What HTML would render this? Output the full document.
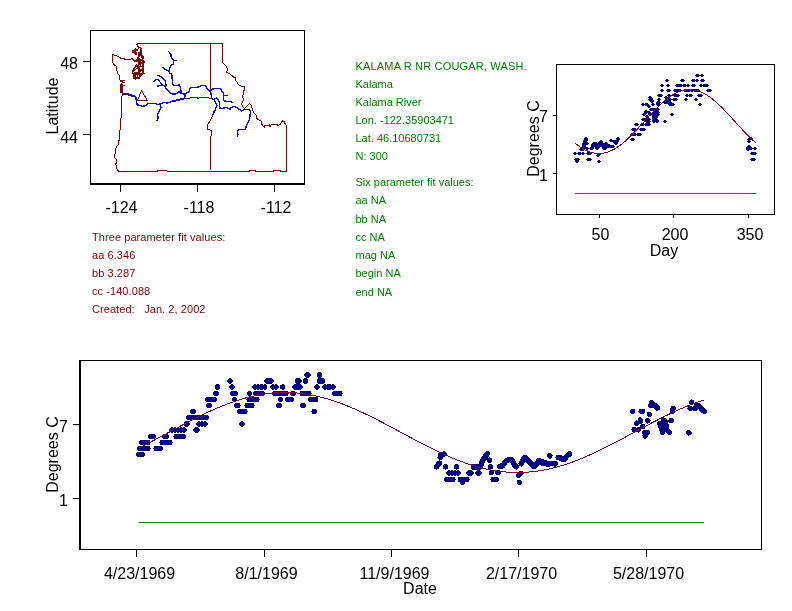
<!DOCTYPE html>
<html><head><meta charset="utf-8"><style>
html,body{margin:0;padding:0;background:#fff;}
svg{display:block;}
</style></head><body>
<svg width="792" height="611" viewBox="0 0 792 611">
<g shape-rendering="crispEdges">
<rect x="90.5" y="30.5" width="214" height="153" fill="none" stroke="#000" stroke-width="1"/>
<rect x="90" y="183" width="215" height="2" fill="#000"/>
<rect x="120" y="185" width="1" height="7" fill="#000"/>
<rect x="197" y="185" width="1" height="7" fill="#000"/>
<rect x="274" y="185" width="1" height="7" fill="#000"/>
<rect x="83" y="61" width="7" height="1" fill="#000"/>
<rect x="83" y="134" width="7" height="1" fill="#000"/>
</g>
<g fill="none" stroke-width="1" shape-rendering="crispEdges" stroke-linejoin="miter">
<polyline points="137.00,43.50 222.50,43.50" stroke="#800000"/>
<polyline points="222.50,43.50 222.50,62.50 223.60,63.50 226.40,66.20 227.30,68.90 226.80,72.50 230.00,73.90 233.60,77.10 235.50,78.00 235.90,80.70 238.60,84.50 240.50,85.90 244.50,86.40 244.10,90.00 243.60,92.70 242.70,96.40 243.60,100.00 242.30,101.80 241.80,104.50 242.70,106.80 244.50,108.20 246.80,106.40 249.50,103.60 251.80,105.90 252.30,110.00 254.10,113.20 256.40,115.50 256.40,118.20 258.60,120.00 260.90,120.90 261.40,123.60 263.20,126.40 264.50,127.30 265.00,125.50 269.50,125.00 270.00,126.40 271.40,124.50 276.80,124.50 278.20,125.50 280.50,124.10 282.30,120.90 284.10,121.80 285.90,125.00 286.50,126.40 286.50,171.50" stroke="#800000"/>
<polyline points="119.10,171.50 157.50,171.50 157.50,170.50 166.50,170.50 167.50,171.50 249.50,171.50 249.50,170.50 255.50,170.50 255.50,171.50 273.50,171.50 273.50,170.50 280.50,170.50 280.50,171.50 286.50,171.50" stroke="#800000"/>
<polyline points="210.50,43.50 210.50,91.00" stroke="#800000"/>
<polyline points="213.60,99.50 215.50,101.80 216.80,105.50 215.50,109.10 214.10,111.80 212.70,115.50 210.50,120.00 207.70,124.50 207.50,129.10 211.50,130.50 211.50,135.50 210.50,136.40 210.50,169.50" stroke="#800000"/>
<polyline points="122.50,94.50 127.30,94.50 129.10,95.50 133.60,96.50 135.90,97.30 136.40,101.80 137.30,105.00 140.90,105.50 142.70,106.40 145.50,105.50 148.20,103.60 155.50,103.60 158.20,104.50 161.80,103.20 164.50,102.30 167.30,103.20 170.90,101.90 176.40,100.90 185.90,98.60 191.80,97.70 196.40,97.30 198.20,98.50 200.00,97.70 208.20,97.70 210.90,98.60 213.60,99.50" stroke="#800000"/>
<polyline points="112.70,54.40 119.50,57.10 120.90,58.50 127.30,59.40 131.80,58.90 133.60,60.30" stroke="#800000"/>
<polyline points="112.50,54.40 112.50,61.60 113.60,64.40 116.40,66.20 116.80,70.70 118.20,74.40 119.50,75.30 119.50,80.00 123.50,80.50 121.50,81.50 123.50,82.50 120.80,83.50" stroke="#800000"/>
<polyline points="122.30,93.60 121.80,98.20 121.80,102.70 121.40,107.30 121.80,110.90 120.90,119.10 120.50,125.50 119.50,134.50 119.50,140.00 118.60,140.90 118.60,144.50 116.80,146.40 115.50,149.10 115.50,153.60 114.50,154.50 114.50,157.30 116.40,159.50 116.40,163.20 115.50,164.10 116.40,165.50 116.40,168.60 119.10,171.50" stroke="#800000"/>
</g>
<path d="M136,44h2v1h-2zM137,45h1v1h-1zM137,46h2v1h-2zM138,47h3v1h-3zM135,48h1v1h-1zM138,48h1v1h-1zM140,48h2v1h-2zM134,49h4v1h-4zM140,49h2v1h-2zM132,50h6v1h-6zM140,50h2v1h-2zM132,51h4v1h-4zM140,51h2v1h-2zM132,52h5v1h-5zM138,52h4v1h-4zM134,53h3v1h-3zM138,53h4v1h-4zM135,54h2v1h-2zM138,54h4v1h-4zM138,55h5v1h-5zM138,56h2v1h-2zM141,56h3v1h-3zM137,57h2v1h-2zM141,57h3v1h-3zM132,58h1v1h-1zM137,58h3v1h-3zM142,58h2v1h-2zM133,59h1v1h-1zM136,59h7v1h-7zM133,60h11v1h-11zM134,61h7v1h-7zM142,61h3v1h-3zM138,62h7v1h-7zM138,63h6v1h-6zM136,64h1v1h-1zM138,64h3v1h-3zM142,64h2v1h-2zM135,65h4v1h-4zM140,65h1v1h-1zM142,65h2v1h-2zM135,66h9v1h-9zM134,67h2v1h-2zM137,67h3v1h-3zM142,67h2v1h-2zM133,68h2v1h-2zM136,68h4v1h-4zM142,68h2v1h-2zM133,69h3v1h-3zM138,69h6v1h-6zM132,70h3v1h-3zM138,70h6v1h-6zM132,71h2v1h-2zM138,71h3v1h-3zM142,71h2v1h-2zM132,72h1v1h-1zM134,72h6v1h-6zM142,72h2v1h-2zM132,73h13v1h-13zM133,74h10v1h-10zM133,75h3v1h-3zM137,75h1v1h-1zM139,75h3v1h-3zM133,76h3v1h-3zM137,76h1v1h-1zM139,76h2v1h-2zM133,77h7v1h-7zM133,78h7v1h-7zM135,79h1v1h-1zM120,84h3v1h-3zM120,85h5v1h-5zM120,86h3v1h-3zM120,87h3v1h-3zM120,88h3v1h-3zM120,89h3v1h-3zM120,90h3v1h-3zM120,91h3v1h-3zM120,92h3v1h-3z" fill="#800000" shape-rendering="crispEdges"/>
<g fill="none" stroke-width="1.35" shape-rendering="crispEdges">
<polyline points="122.30,93.60 127.30,93.60 129.10,94.50 133.60,95.50 135.90,97.30 136.40,101.80 137.30,105.00 140.90,105.50 142.70,106.40 145.50,105.50 148.20,103.60 155.50,103.60 158.20,104.50 161.80,103.20 164.50,102.30 167.30,103.20 171.80,101.40 178.20,99.50 184.50,98.60 185.50,93.60" stroke="#0000ff"/>
<polyline points="185.50,93.60 189.10,91.80 190.00,88.20 191.80,87.30 195.50,87.70 199.10,86.80 200.90,85.50 205.50,85.50 207.30,89.10 210.00,90.90 210.90,93.60 211.80,98.20 213.60,99.50 215.50,101.80 216.80,105.50 215.50,109.10 214.10,111.80 212.70,115.50" stroke="#0000ff"/>
<polyline points="210.50,90.70 212.70,89.10 216.40,88.20 220.00,88.60 221.80,90.90 223.60,93.60 223.60,95.50 227.70,95.50" stroke="#0000ff"/>
<polyline points="223.60,95.50 223.60,100.50 227.30,101.80 231.40,101.80 232.30,103.20" stroke="#0000ff"/>
<polyline points="213.60,99.50 216.40,98.20 218.60,100.00 219.50,103.60 220.00,108.60 223.60,108.20 225.50,107.30 227.70,108.20 230.00,109.10 231.40,107.30 234.10,106.40 236.80,107.70 239.50,109.50 241.80,110.90 245.00,109.50 249.10,109.50 250.50,111.40 250.00,115.90 249.10,120.00 247.70,122.70 246.40,125.50 245.50,129.10 241.80,129.50 238.60,129.80 237.50,131.80 238.00,134.50 237.50,137.00" stroke="#0000ff"/>
<polyline points="168.50,51.30 170.90,54.50 171.30,57.80 173.40,60.30 176.60,60.30" stroke="#0000ff"/>
<polyline points="173.40,60.30 173.40,64.00 170.90,65.60 169.70,67.60 168.90,71.70 170.10,73.40 171.70,74.20 172.10,77.50 172.50,83.20 173.40,85.60 177.50,85.60 178.70,84.40 180.70,88.10 181.10,92.60 184.00,94.20 185.50,93.60" stroke="#0000ff"/>
<polyline points="168.90,71.70 168.00,70.90 163.10,68.00 163.10,66.80" stroke="#0000ff"/>
<polyline points="157.40,75.40 161.10,76.60 164.00,79.10 165.60,81.60 166.00,86.10" stroke="#0000ff"/>
<polyline points="153.30,82.00 156.20,79.50 158.20,79.90 161.10,83.20 162.30,85.20 165.20,86.50 166.40,88.90 168.90,91.00 170.90,93.00 172.50,94.20 176.20,93.80 179.10,91.40 180.70,93.00 184.00,94.20" stroke="#0000ff"/>
<polyline points="157.40,86.10 162.30,85.20" stroke="#0000ff"/>
<polyline points="160.50,104.50 160.90,107.30 159.10,110.90 157.70,114.50 158.20,118.20 156.40,121.40" stroke="#0000ff"/>
</g>
<polygon points="141.5,90.5 137.5,100.5 147.5,100.5" fill="none" stroke="#800040" stroke-width="1" shape-rendering="crispEdges"/>
<text x="121.5" y="213" font-size="16" text-anchor="middle" font-family="Liberation Sans, Arial, sans-serif">-124</text>
<text x="199" y="213" font-size="16" text-anchor="middle" font-family="Liberation Sans, Arial, sans-serif">-118</text>
<text x="276" y="213" font-size="16" text-anchor="middle" font-family="Liberation Sans, Arial, sans-serif">-112</text>
<text x="78" y="69" font-size="16" text-anchor="end" font-family="Liberation Sans, Arial, sans-serif">48</text>
<text x="78" y="143" font-size="16" text-anchor="end" font-family="Liberation Sans, Arial, sans-serif">44</text>
<text transform="translate(58,106) rotate(-90)" font-size="16" text-anchor="middle" font-family="Liberation Sans, Arial, sans-serif">Latitude</text>
<text x="92" y="241" font-size="11" fill="#800000" letter-spacing="0.07" font-family="Liberation Sans, Arial, sans-serif" xml:space="preserve">Three parameter fit values:</text>
<text x="92" y="259" font-size="11" fill="#800000" letter-spacing="0.07" font-family="Liberation Sans, Arial, sans-serif" xml:space="preserve">aa 6.346</text>
<text x="92" y="277" font-size="11" fill="#800000" letter-spacing="0.07" font-family="Liberation Sans, Arial, sans-serif" xml:space="preserve">bb 3.287</text>
<text x="92" y="295" font-size="11" fill="#800000" letter-spacing="0.07" font-family="Liberation Sans, Arial, sans-serif" xml:space="preserve">cc -140.088</text>
<text x="92" y="313" font-size="11" fill="#800000" letter-spacing="0.07" font-family="Liberation Sans, Arial, sans-serif" xml:space="preserve">Created:   Jan. 2, 2002</text>
<text x="355.5" y="69.5" font-size="11" fill="#008000" letter-spacing="0.17" font-family="Liberation Sans, Arial, sans-serif">KALAMA R NR COUGAR, WASH.</text>
<text x="355.5" y="87.5" font-size="11" fill="#008000" font-family="Liberation Sans, Arial, sans-serif">Kalama</text>
<text x="355.5" y="105.5" font-size="11" fill="#008000" font-family="Liberation Sans, Arial, sans-serif">Kalama River</text>
<text x="355.5" y="123.5" font-size="11" fill="#008000" font-family="Liberation Sans, Arial, sans-serif">Lon. -122.35903471</text>
<text x="355.5" y="141.5" font-size="11" fill="#008000" font-family="Liberation Sans, Arial, sans-serif">Lat. 46.10680731</text>
<text x="355.5" y="159.5" font-size="11" fill="#008000" font-family="Liberation Sans, Arial, sans-serif">N: 300</text>
<text x="355.5" y="186" font-size="11" fill="#008000" font-family="Liberation Sans, Arial, sans-serif">Six parameter fit values:</text>
<text x="355.5" y="204" font-size="11" fill="#008000" font-family="Liberation Sans, Arial, sans-serif">aa NA</text>
<text x="355.5" y="222.5" font-size="11" fill="#008000" font-family="Liberation Sans, Arial, sans-serif">bb NA</text>
<text x="355.5" y="240.5" font-size="11" fill="#008000" font-family="Liberation Sans, Arial, sans-serif">cc NA</text>
<text x="355.5" y="259" font-size="11" fill="#008000" font-family="Liberation Sans, Arial, sans-serif">mag NA</text>
<text x="355.5" y="277" font-size="11" fill="#008000" font-family="Liberation Sans, Arial, sans-serif">begin NA</text>
<text x="355.5" y="295.5" font-size="11" fill="#008000" font-family="Liberation Sans, Arial, sans-serif">end NA</text>
<g shape-rendering="crispEdges">
<rect x="556.5" y="64.5" width="218" height="150" fill="none" stroke="#000"/>
<rect x="599" y="215" width="1" height="3" fill="#000"/>
<rect x="673" y="215" width="1" height="3" fill="#000"/>
<rect x="748" y="215" width="1" height="3" fill="#000"/>
<rect x="553" y="115" width="3" height="1" fill="#000"/>
<rect x="553" y="173" width="3" height="1" fill="#000"/>
</g>
<text x="600.5" y="240" font-size="16" text-anchor="middle" font-family="Liberation Sans, Arial, sans-serif">50</text>
<text x="675" y="240" font-size="16" text-anchor="middle" font-family="Liberation Sans, Arial, sans-serif">200</text>
<text x="750" y="240" font-size="16" text-anchor="middle" font-family="Liberation Sans, Arial, sans-serif">350</text>
<text x="548" y="122" font-size="16" text-anchor="end" font-family="Liberation Sans, Arial, sans-serif">7</text>
<text x="548" y="181" font-size="16" text-anchor="end" font-family="Liberation Sans, Arial, sans-serif">1</text>
<text x="664" y="256" font-size="16" text-anchor="middle" font-family="Liberation Sans, Arial, sans-serif">Day</text>
<text transform="translate(538.5,138.5) rotate(-90)" font-size="16" text-anchor="middle" font-family="Liberation Sans, Arial, sans-serif">Degrees C</text>
<g shape-rendering="crispEdges">
<rect x="79" y="360" width="2" height="190" fill="#000"/>
<rect x="79" y="360" width="683" height="1" fill="#000"/>
<rect x="761" y="360" width="1" height="190" fill="#000"/>
<rect x="79" y="549" width="683" height="1" fill="#000"/>
<rect x="136" y="550" width="1" height="7" fill="#000"/>
<rect x="264" y="550" width="1" height="7" fill="#000"/>
<rect x="391" y="550" width="1" height="7" fill="#000"/>
<rect x="518" y="550" width="1" height="7" fill="#000"/>
<rect x="646" y="550" width="1" height="7" fill="#000"/>
<rect x="73" y="424" width="6" height="1" fill="#000"/>
<rect x="73" y="498" width="6" height="1" fill="#000"/>
</g>
<text x="139.5" y="579" font-size="16" text-anchor="middle" font-family="Liberation Sans, Arial, sans-serif">4/23/1969</text>
<text x="266.5" y="579" font-size="16" text-anchor="middle" font-family="Liberation Sans, Arial, sans-serif">8/1/1969</text>
<text x="394.5" y="579" font-size="16" text-anchor="middle" font-family="Liberation Sans, Arial, sans-serif">11/9/1969</text>
<text x="521.5" y="579" font-size="16" text-anchor="middle" font-family="Liberation Sans, Arial, sans-serif">2/17/1970</text>
<text x="648.5" y="579" font-size="16" text-anchor="middle" font-family="Liberation Sans, Arial, sans-serif">5/28/1970</text>
<text x="68" y="431.5" font-size="16" text-anchor="end" font-family="Liberation Sans, Arial, sans-serif">7</text>
<text x="68" y="505.5" font-size="16" text-anchor="end" font-family="Liberation Sans, Arial, sans-serif">1</text>
<text x="420" y="594" font-size="16" text-anchor="middle" font-family="Liberation Sans, Arial, sans-serif">Date</text>
<text transform="translate(57.5,454.5) rotate(-90)" font-size="16" text-anchor="middle" font-family="Liberation Sans, Arial, sans-serif">Degrees C</text>
<rect x="139" y="522" width="565" height="1" fill="#008000" shape-rendering="crispEdges"/>
<rect x="575" y="193" width="181" height="1" fill="#008000" shape-rendering="crispEdges"/>
<path d="M306,372h3v1h-3zM318,372h3v1h-3zM305,373h5v1h-5zM317,373h5v1h-5zM304,374h7v1h-7zM317,374h5v1h-5zM304,375h7v1h-7zM317,375h5v1h-5zM305,376h5v1h-5zM317,376h5v1h-5zM306,377h3v1h-3zM318,377h3v1h-3zM229,378h2v1h-2zM266,378h6v1h-6zM296,378h4v1h-4zM304,378h3v1h-3zM318,378h6v1h-6zM228,379h4v1h-4zM265,379h8v1h-8zM295,379h6v1h-6zM303,379h5v1h-5zM317,379h8v1h-8zM227,380h6v1h-6zM264,380h10v1h-10zM295,380h7v1h-7zM303,380h5v1h-5zM317,380h8v1h-8zM227,381h6v1h-6zM264,381h10v1h-10zM295,381h7v1h-7zM303,381h5v1h-5zM317,381h8v1h-8zM228,382h4v1h-4zM265,382h8v1h-8zM295,382h6v1h-6zM303,382h5v1h-5zM317,382h8v1h-8zM229,383h2v1h-2zM266,383h6v1h-6zM296,383h4v1h-4zM304,383h3v1h-3zM318,383h6v1h-6zM216,384h3v1h-3zM231,384h2v1h-2zM254,384h2v1h-2zM257,384h2v1h-2zM260,384h3v1h-3zM264,384h2v1h-2zM272,384h2v1h-2zM275,384h2v1h-2zM282,384h2v1h-2zM294,384h7v1h-7zM316,384h2v1h-2zM324,384h2v1h-2zM327,384h4v1h-4zM332,384h2v1h-2zM215,385h5v1h-5zM230,385h4v1h-4zM253,385h14v1h-14zM271,385h7v1h-7zM280,385h5v1h-5zM293,385h9v1h-9zM315,385h4v1h-4zM323,385h12v1h-12zM215,386h5v1h-5zM229,386h6v1h-6zM252,386h15v1h-15zM270,386h9v1h-9zM280,386h5v1h-5zM292,386h11v1h-11zM314,386h6v1h-6zM322,386h14v1h-14zM215,387h5v1h-5zM229,387h6v1h-6zM252,387h15v1h-15zM270,387h9v1h-9zM280,387h5v1h-5zM292,387h11v1h-11zM314,387h6v1h-6zM322,387h14v1h-14zM215,388h5v1h-5zM230,388h4v1h-4zM253,388h14v1h-14zM271,388h7v1h-7zM280,388h5v1h-5zM293,388h9v1h-9zM315,388h4v1h-4zM323,388h12v1h-12zM216,389h3v1h-3zM231,389h2v1h-2zM254,389h2v1h-2zM257,389h2v1h-2zM260,389h3v1h-3zM264,389h2v1h-2zM272,389h2v1h-2zM275,389h2v1h-2zM282,389h2v1h-2zM294,389h7v1h-7zM316,389h2v1h-2zM324,389h2v1h-2zM327,389h4v1h-4zM332,389h2v1h-2zM214,391h4v1h-4zM231,391h6v1h-6zM248,391h3v1h-3zM254,391h10v1h-10zM273,391h15v1h-15zM291,391h4v1h-4zM300,391h11v1h-11zM333,391h9v1h-9zM213,392h6v1h-6zM230,392h8v1h-8zM247,392h5v1h-5zM253,392h12v1h-12zM272,392h16v1h-16zM290,392h6v1h-6zM300,392h11v1h-11zM332,392h10v1h-10zM213,393h6v1h-6zM230,393h8v1h-8zM247,393h5v1h-5zM253,393h12v1h-12zM272,393h17v1h-17zM290,393h6v1h-6zM299,393h13v1h-13zM332,393h11v1h-11zM213,394h6v1h-6zM230,394h8v1h-8zM247,394h5v1h-5zM253,394h12v1h-12zM272,394h16v1h-16zM290,394h6v1h-6zM300,394h11v1h-11zM332,394h10v1h-10zM214,395h4v1h-4zM231,395h6v1h-6zM248,395h3v1h-3zM254,395h10v1h-10zM273,395h15v1h-15zM291,395h4v1h-4zM300,395h11v1h-11zM333,395h9v1h-9zM206,397h10v1h-10zM233,397h3v1h-3zM247,397h12v1h-12zM279,397h3v1h-3zM286,397h7v1h-7zM309,397h9v1h-9zM205,398h12v1h-12zM232,398h5v1h-5zM247,398h12v1h-12zM278,398h5v1h-5zM285,398h9v1h-9zM308,398h10v1h-10zM205,399h12v1h-12zM232,399h5v1h-5zM246,399h14v1h-14zM278,399h5v1h-5zM285,399h9v1h-9zM308,399h10v1h-10zM691,399h1v1h-1zM205,400h12v1h-12zM232,400h5v1h-5zM247,400h12v1h-12zM278,400h5v1h-5zM285,400h9v1h-9zM308,400h10v1h-10zM650,400h3v1h-3zM690,400h4v1h-4zM206,401h10v1h-10zM233,401h3v1h-3zM247,401h12v1h-12zM279,401h3v1h-3zM286,401h7v1h-7zM309,401h9v1h-9zM649,401h5v1h-5zM689,401h5v1h-5zM649,402h6v1h-6zM689,402h5v1h-5zM696,402h1v1h-1zM207,403h4v1h-4zM235,403h5v1h-5zM245,403h9v1h-9zM277,403h4v1h-4zM301,403h4v1h-4zM649,403h8v1h-8zM689,403h5v1h-5zM695,403h5v1h-5zM206,404h6v1h-6zM234,404h6v1h-6zM245,404h9v1h-9zM276,404h6v1h-6zM300,404h6v1h-6zM648,404h10v1h-10zM690,404h3v1h-3zM694,404h7v1h-7zM206,405h6v1h-6zM234,405h7v1h-7zM244,405h11v1h-11zM276,405h6v1h-6zM300,405h6v1h-6zM648,405h11v1h-11zM694,405h8v1h-8zM206,406h6v1h-6zM234,406h6v1h-6zM245,406h9v1h-9zM276,406h6v1h-6zM300,406h6v1h-6zM648,406h12v1h-12zM671,406h4v1h-4zM688,406h4v1h-4zM693,406h10v1h-10zM207,407h4v1h-4zM235,407h5v1h-5zM245,407h9v1h-9zM277,407h4v1h-4zM301,407h4v1h-4zM649,407h11v1h-11zM671,407h5v1h-5zM688,407h16v1h-16zM654,408h6v1h-6zM670,408h6v1h-6zM687,408h18v1h-18zM191,409h4v1h-4zM238,409h9v1h-9zM312,409h4v1h-4zM631,409h4v1h-4zM639,409h6v1h-6zM655,409h5v1h-5zM670,409h6v1h-6zM688,409h10v1h-10zM699,409h7v1h-7zM190,410h6v1h-6zM237,410h10v1h-10zM312,410h5v1h-5zM630,410h5v1h-5zM639,410h6v1h-6zM656,410h2v1h-2zM670,410h5v1h-5zM689,410h3v1h-3zM693,410h4v1h-4zM699,410h8v1h-8zM190,411h6v1h-6zM237,411h11v1h-11zM311,411h6v1h-6zM630,411h5v1h-5zM638,411h7v1h-7zM670,411h5v1h-5zM700,411h7v1h-7zM190,412h6v1h-6zM237,412h10v1h-10zM312,412h5v1h-5zM630,412h5v1h-5zM639,412h6v1h-6zM647,412h4v1h-4zM670,412h5v1h-5zM701,412h6v1h-6zM191,413h4v1h-4zM238,413h9v1h-9zM312,413h4v1h-4zM631,413h3v1h-3zM640,413h4v1h-4zM647,413h5v1h-5zM671,413h3v1h-3zM703,413h3v1h-3zM647,414h5v1h-5zM187,415h21v1h-21zM647,415h5v1h-5zM186,416h23v1h-23zM648,416h3v1h-3zM186,417h23v1h-23zM639,417h2v1h-2zM662,417h2v1h-2zM186,418h23v1h-23zM638,418h4v1h-4zM646,418h3v1h-3zM661,418h5v1h-5zM669,418h4v1h-4zM187,419h21v1h-21zM638,419h5v1h-5zM645,419h5v1h-5zM661,419h6v1h-6zM669,419h5v1h-5zM636,420h1v1h-1zM638,420h5v1h-5zM645,420h6v1h-6zM661,420h13v1h-13zM185,421h3v1h-3zM198,421h2v1h-2zM201,421h2v1h-2zM204,421h2v1h-2zM241,421h2v1h-2zM635,421h8v1h-8zM645,421h5v1h-5zM658,421h16v1h-16zM184,422h5v1h-5zM197,422h10v1h-10zM240,422h4v1h-4zM634,422h9v1h-9zM646,422h4v1h-4zM657,422h11v1h-11zM669,422h4v1h-4zM184,423h6v1h-6zM196,423h12v1h-12zM239,423h6v1h-6zM634,423h8v1h-8zM647,423h1v1h-1zM657,423h11v1h-11zM184,424h6v1h-6zM196,424h12v1h-12zM239,424h6v1h-6zM634,424h5v1h-5zM641,424h4v1h-4zM657,424h12v1h-12zM184,425h5v1h-5zM197,425h10v1h-10zM240,425h4v1h-4zM635,425h3v1h-3zM640,425h5v1h-5zM658,425h11v1h-11zM185,426h3v1h-3zM198,426h2v1h-2zM201,426h2v1h-2zM204,426h2v1h-2zM241,426h2v1h-2zM640,426h6v1h-6zM658,426h11v1h-11zM171,427h2v1h-2zM174,427h2v1h-2zM177,427h2v1h-2zM180,427h2v1h-2zM183,427h2v1h-2zM195,427h3v1h-3zM632,427h4v1h-4zM637,427h8v1h-8zM658,427h11v1h-11zM170,428h16v1h-16zM194,428h5v1h-5zM632,428h13v1h-13zM659,428h10v1h-10zM169,429h18v1h-18zM193,429h7v1h-7zM631,429h10v1h-10zM659,429h11v1h-11zM169,430h18v1h-18zM193,430h7v1h-7zM632,430h9v1h-9zM643,430h6v1h-6zM659,430h12v1h-12zM687,430h3v1h-3zM170,431h16v1h-16zM194,431h5v1h-5zM632,431h8v1h-8zM642,431h8v1h-8zM660,431h12v1h-12zM686,431h5v1h-5zM171,432h2v1h-2zM174,432h2v1h-2zM177,432h2v1h-2zM180,432h2v1h-2zM183,432h2v1h-2zM195,432h3v1h-3zM638,432h1v1h-1zM642,432h8v1h-8zM660,432h5v1h-5zM666,432h6v1h-6zM686,432h6v1h-6zM642,433h8v1h-8zM660,433h5v1h-5zM667,433h5v1h-5zM686,433h6v1h-6zM149,434h6v1h-6zM163,434h5v1h-5zM174,434h11v1h-11zM643,434h6v1h-6zM661,434h3v1h-3zM668,434h3v1h-3zM687,434h4v1h-4zM148,435h8v1h-8zM162,435h7v1h-7zM174,435h12v1h-12zM642,435h6v1h-6zM688,435h1v1h-1zM148,436h8v1h-8zM162,436h7v1h-7zM173,436h13v1h-13zM643,436h5v1h-5zM148,437h8v1h-8zM162,437h7v1h-7zM174,437h12v1h-12zM643,437h4v1h-4zM149,438h6v1h-6zM163,438h5v1h-5zM174,438h11v1h-11zM644,438h2v1h-2zM140,440h10v1h-10zM160,440h12v1h-12zM139,441h11v1h-11zM160,441h12v1h-12zM139,442h12v1h-12zM159,442h14v1h-14zM139,443h11v1h-11zM160,443h12v1h-12zM140,444h10v1h-10zM160,444h12v1h-12zM138,446h12v1h-12zM154,446h8v1h-8zM137,447h13v1h-13zM154,447h9v1h-9zM137,448h14v1h-14zM153,448h10v1h-10zM137,449h13v1h-13zM154,449h9v1h-9zM138,450h12v1h-12zM154,450h8v1h-8zM443,451h2v1h-2zM486,451h3v1h-3zM568,451h3v1h-3zM137,452h7v1h-7zM439,452h7v1h-7zM485,452h5v1h-5zM567,452h5v1h-5zM136,453h9v1h-9zM438,453h9v1h-9zM484,453h6v1h-6zM548,453h3v1h-3zM566,453h6v1h-6zM136,454h9v1h-9zM438,454h9v1h-9zM483,454h7v1h-7zM547,454h5v1h-5zM565,454h7v1h-7zM136,455h9v1h-9zM438,455h8v1h-8zM483,455h6v1h-6zM523,455h4v1h-4zM547,455h6v1h-6zM556,455h6v1h-6zM564,455h8v1h-8zM137,456h7v1h-7zM438,456h7v1h-7zM482,456h7v1h-7zM522,456h6v1h-6zM547,456h5v1h-5zM556,456h15v1h-15zM437,457h6v1h-6zM481,457h7v1h-7zM489,457h1v1h-1zM507,457h6v1h-6zM521,457h8v1h-8zM548,457h4v1h-4zM555,457h14v1h-14zM438,458h5v1h-5zM481,458h11v1h-11zM505,458h9v1h-9zM521,458h9v1h-9zM537,458h4v1h-4zM549,458h2v1h-2zM556,458h12v1h-12zM439,459h3v1h-3zM480,459h12v1h-12zM504,459h11v1h-11zM520,459h11v1h-11zM536,459h8v1h-8zM556,459h12v1h-12zM439,460h1v1h-1zM480,460h6v1h-6zM487,460h5v1h-5zM503,460h12v1h-12zM520,460h12v1h-12zM536,460h11v1h-11zM559,460h8v1h-8zM437,461h5v1h-5zM479,461h6v1h-6zM487,461h5v1h-5zM502,461h14v1h-14zM519,461h14v1h-14zM535,461h22v1h-22zM561,461h5v1h-5zM436,462h6v1h-6zM479,462h6v1h-6zM488,462h3v1h-3zM502,462h7v1h-7zM510,462h6v1h-6zM519,462h6v1h-6zM526,462h32v1h-32zM436,463h6v1h-6zM479,463h5v1h-5zM500,463h7v1h-7zM511,463h6v1h-6zM518,463h6v1h-6zM527,463h31v1h-31zM435,464h7v1h-7zM444,464h3v1h-3zM455,464h3v1h-3zM472,464h12v1h-12zM489,464h3v1h-3zM498,464h9v1h-9zM511,464h7v1h-7zM519,464h5v1h-5zM528,464h30v1h-30zM434,465h7v1h-7zM443,465h5v1h-5zM454,465h5v1h-5zM471,465h13v1h-13zM488,465h5v1h-5zM497,465h9v1h-9zM512,465h11v1h-11zM529,465h10v1h-10zM541,465h16v1h-16zM434,466h6v1h-6zM443,466h5v1h-5zM454,466h5v1h-5zM471,466h12v1h-12zM488,466h5v1h-5zM497,466h8v1h-8zM512,466h7v1h-7zM521,466h1v1h-1zM530,466h8v1h-8zM546,466h4v1h-4zM554,466h2v1h-2zM434,467h5v1h-5zM443,467h5v1h-5zM454,467h5v1h-5zM471,467h12v1h-12zM488,467h5v1h-5zM497,467h8v1h-8zM513,467h6v1h-6zM531,467h6v1h-6zM434,468h5v1h-5zM443,468h5v1h-5zM454,468h5v1h-5zM471,468h11v1h-11zM488,468h5v1h-5zM498,468h5v1h-5zM514,468h4v1h-4zM532,468h4v1h-4zM436,469h1v1h-1zM445,469h1v1h-1zM456,469h1v1h-1zM472,469h9v1h-9zM490,469h1v1h-1zM516,469h1v1h-1zM448,470h2v1h-2zM451,470h2v1h-2zM454,470h2v1h-2zM457,470h2v1h-2zM468,470h4v1h-4zM477,470h3v1h-3zM490,470h3v1h-3zM496,470h4v1h-4zM447,471h13v1h-13zM467,471h6v1h-6zM476,471h5v1h-5zM489,471h5v1h-5zM495,471h6v1h-6zM519,471h4v1h-4zM446,472h15v1h-15zM466,472h8v1h-8zM475,472h7v1h-7zM489,472h5v1h-5zM495,472h6v1h-6zM518,472h5v1h-5zM446,473h15v1h-15zM466,473h8v1h-8zM475,473h7v1h-7zM489,473h5v1h-5zM495,473h6v1h-6zM517,473h7v1h-7zM447,474h13v1h-13zM467,474h6v1h-6zM476,474h5v1h-5zM489,474h4v1h-4zM496,474h4v1h-4zM516,474h7v1h-7zM448,475h2v1h-2zM451,475h2v1h-2zM454,475h2v1h-2zM457,475h2v1h-2zM468,475h4v1h-4zM477,475h3v1h-3zM516,475h6v1h-6zM516,476h5v1h-5zM445,477h10v1h-10zM458,477h11v1h-11zM491,477h7v1h-7zM517,477h3v1h-3zM444,478h11v1h-11zM458,478h11v1h-11zM491,478h8v1h-8zM444,479h12v1h-12zM458,479h12v1h-12zM490,479h9v1h-9zM444,480h11v1h-11zM458,480h11v1h-11zM491,480h8v1h-8zM517,480h4v1h-4zM445,481h10v1h-10zM458,481h11v1h-11zM491,481h7v1h-7zM517,481h5v1h-5zM460,482h5v1h-5zM517,482h5v1h-5zM460,483h5v1h-5zM517,483h5v1h-5zM461,484h3v1h-3zM518,484h3v1h-3z" fill="#000080" shape-rendering="crispEdges"/>
<path d="M696,74h3v1h-3zM701,74h2v1h-2zM695,75h9v1h-9zM696,76h3v1h-3zM701,76h2v1h-2zM666,79h2v1h-2zM681,79h3v1h-3zM692,79h3v1h-3zM696,79h2v1h-2zM701,79h3v1h-3zM665,80h4v1h-4zM680,80h5v1h-5zM691,80h8v1h-8zM700,80h5v1h-5zM666,81h2v1h-2zM681,81h3v1h-3zM692,81h3v1h-3zM696,81h2v1h-2zM701,81h3v1h-3zM661,84h2v1h-2zM667,84h2v1h-2zM676,84h6v1h-6zM683,84h3v1h-3zM687,84h2v1h-2zM692,84h3v1h-3zM700,84h2v1h-2zM703,84h5v1h-5zM660,85h4v1h-4zM666,85h4v1h-4zM675,85h15v1h-15zM691,85h5v1h-5zM699,85h10v1h-10zM661,86h2v1h-2zM667,86h2v1h-2zM676,86h6v1h-6zM683,86h3v1h-3zM687,86h2v1h-2zM692,86h3v1h-3zM700,86h2v1h-2zM703,86h5v1h-5zM661,89h2v1h-2zM667,89h3v1h-3zM674,89h7v1h-7zM684,89h6v1h-6zM691,89h2v1h-2zM694,89h5v1h-5zM707,89h4v1h-4zM660,90h4v1h-4zM666,90h5v1h-5zM673,90h9v1h-9zM683,90h17v1h-17zM706,90h6v1h-6zM661,91h2v1h-2zM667,91h3v1h-3zM674,91h7v1h-7zM684,91h6v1h-6zM691,91h2v1h-2zM694,91h5v1h-5zM707,91h4v1h-4zM658,94h4v1h-4zM668,94h2v1h-2zM674,94h5v1h-5zM686,94h2v1h-2zM689,94h3v1h-3zM698,94h4v1h-4zM657,95h6v1h-6zM667,95h4v1h-4zM673,95h7v1h-7zM685,95h8v1h-8zM697,95h6v1h-6zM649,96h2v1h-2zM658,96h4v1h-4zM665,96h2v1h-2zM668,96h2v1h-2zM674,96h5v1h-5zM686,96h2v1h-2zM689,96h3v1h-3zM698,96h4v1h-4zM648,97h4v1h-4zM664,97h4v1h-4zM649,98h4v1h-4zM658,98h2v1h-2zM665,98h6v1h-6zM673,98h4v1h-4zM685,98h2v1h-2zM695,98h2v1h-2zM648,99h5v1h-5zM657,99h4v1h-4zM666,99h12v1h-12zM684,99h4v1h-4zM694,99h4v1h-4zM649,100h5v1h-5zM658,100h2v1h-2zM666,100h5v1h-5zM673,100h4v1h-4zM685,100h2v1h-2zM695,100h2v1h-2zM650,101h4v1h-4zM657,101h3v1h-3zM664,101h7v1h-7zM651,102h2v1h-2zM656,102h5v1h-5zM663,102h9v1h-9zM642,103h2v1h-2zM645,103h3v1h-3zM652,103h2v1h-2zM656,103h4v1h-4zM664,103h10v1h-10zM699,103h2v1h-2zM641,104h8v1h-8zM651,104h4v1h-4zM656,104h4v1h-4zM668,104h7v1h-7zM698,104h4v1h-4zM642,105h2v1h-2zM645,105h5v1h-5zM652,105h2v1h-2zM657,105h2v1h-2zM669,105h5v1h-5zM699,105h2v1h-2zM647,106h4v1h-4zM648,107h2v1h-2zM650,108h9v1h-9zM649,109h11v1h-11zM645,110h2v1h-2zM650,110h9v1h-9zM644,111h6v1h-6zM653,111h6v1h-6zM644,112h7v1h-7zM653,112h7v1h-7zM643,113h4v1h-4zM648,113h3v1h-3zM652,113h7v1h-7zM671,113h2v1h-2zM642,114h4v1h-4zM648,114h12v1h-12zM670,114h4v1h-4zM643,115h2v1h-2zM646,115h2v1h-2zM649,115h2v1h-2zM652,115h7v1h-7zM671,115h2v1h-2zM645,116h4v1h-4zM652,116h6v1h-6zM646,117h2v1h-2zM652,117h6v1h-6zM642,118h8v1h-8zM652,118h5v1h-5zM641,119h10v1h-10zM652,119h6v1h-6zM642,120h8v1h-8zM652,120h7v1h-7zM664,120h2v1h-2zM645,121h6v1h-6zM652,121h7v1h-7zM663,121h4v1h-4zM646,122h4v1h-4zM653,122h2v1h-2zM656,122h2v1h-2zM664,122h2v1h-2zM635,123h3v1h-3zM641,123h3v1h-3zM645,123h5v1h-5zM634,124h5v1h-5zM640,124h11v1h-11zM635,125h3v1h-3zM641,125h3v1h-3zM645,125h5v1h-5zM632,128h4v1h-4zM640,128h5v1h-5zM631,129h6v1h-6zM639,129h7v1h-7zM632,130h4v1h-4zM640,130h5v1h-5zM631,133h5v1h-5zM637,133h4v1h-4zM630,134h12v1h-12zM631,135h5v1h-5zM637,135h4v1h-4zM585,137h2v1h-2zM617,137h2v1h-2zM749,137h3v1h-3zM584,138h4v1h-4zM616,138h4v1h-4zM631,138h3v1h-3zM748,138h5v1h-5zM584,139h4v1h-4zM610,139h2v1h-2zM616,139h4v1h-4zM630,139h5v1h-5zM747,139h5v1h-5zM583,140h5v1h-5zM600,140h2v1h-2zM609,140h10v1h-10zM631,140h3v1h-3zM748,140h2v1h-2zM583,141h4v1h-4zM599,141h4v1h-4zM610,141h9v1h-9zM747,141h4v1h-4zM583,142h5v1h-5zM593,142h4v1h-4zM598,142h5v1h-5zM605,142h2v1h-2zM613,142h5v1h-5zM748,142h2v1h-2zM582,143h7v1h-7zM592,143h16v1h-16zM614,143h4v1h-4zM582,144h6v1h-6zM591,144h19v1h-19zM615,144h2v1h-2zM582,145h4v1h-4zM591,145h23v1h-23zM748,145h2v1h-2zM582,146h4v1h-4zM591,146h24v1h-24zM747,146h4v1h-4zM582,147h6v1h-6zM590,147h4v1h-4zM595,147h5v1h-5zM602,147h12v1h-12zM746,147h6v1h-6zM754,147h2v1h-2zM580,148h14v1h-14zM595,148h4v1h-4zM602,148h5v1h-5zM746,148h11v1h-11zM579,149h6v1h-6zM586,149h2v1h-2zM590,149h3v1h-3zM596,149h2v1h-2zM603,149h3v1h-3zM746,149h6v1h-6zM754,149h2v1h-2zM580,150h4v1h-4zM747,150h2v1h-2zM574,152h2v1h-2zM578,152h3v1h-3zM582,152h2v1h-2zM587,152h4v1h-4zM751,152h5v1h-5zM573,153h12v1h-12zM586,153h6v1h-6zM598,153h2v1h-2zM750,153h7v1h-7zM574,154h2v1h-2zM578,154h3v1h-3zM582,154h2v1h-2zM587,154h4v1h-4zM597,154h4v1h-4zM751,154h5v1h-5zM596,155h4v1h-4zM597,156h2v1h-2zM575,158h4v1h-4zM587,158h4v1h-4zM751,158h4v1h-4zM574,159h6v1h-6zM586,159h6v1h-6zM750,159h6v1h-6zM575,160h4v1h-4zM587,160h4v1h-4zM598,160h2v1h-2zM751,160h4v1h-4zM575,161h4v1h-4zM597,161h4v1h-4zM576,162h2v1h-2zM598,162h2v1h-2z" fill="#000080" shape-rendering="crispEdges"/>
<polyline points="139.05,447.98 139.37,447.82 139.69,447.67 140.01,447.51 140.32,447.35 140.64,447.19 140.96,447.03 141.28,446.87 141.60,446.70 141.92,446.54 142.24,446.38 142.56,446.22 142.88,446.06 143.19,445.90 143.51,445.73 143.83,445.57 144.15,445.41 144.47,445.25 144.79,445.08 145.11,444.92 145.43,444.76 145.74,444.59 146.06,444.43 146.38,444.26 146.70,444.10 147.02,443.93 147.34,443.77 147.66,443.60 147.97,443.44 148.29,443.27 148.61,443.11 148.93,442.94 149.25,442.77 149.57,442.61 149.89,442.44 150.21,442.27 150.53,442.11 150.84,441.94 151.16,441.77 151.48,441.60 151.80,441.44 152.12,441.27 152.44,441.10 152.76,440.93 153.07,440.76 153.39,440.60 153.71,440.43 154.03,440.26 154.35,440.09 154.67,439.92 154.99,439.75 155.31,439.58 155.62,439.41 155.94,439.24 156.26,439.07 156.58,438.90 156.90,438.73 157.22,438.56 157.54,438.39 157.86,438.22 158.18,438.05 158.49,437.88 158.81,437.71 159.13,437.54 159.45,437.37 159.77,437.20 160.09,437.03 160.41,436.86 160.72,436.68 161.04,436.51 161.36,436.34 161.68,436.17 162.00,436.00 162.32,435.83 162.64,435.66 162.96,435.48 163.28,435.31 163.59,435.14 163.91,434.97 164.23,434.80 164.55,434.63 164.87,434.45 165.19,434.28 165.51,434.11 165.82,433.94 166.14,433.77 166.46,433.59 166.78,433.42 167.10,433.25 167.42,433.08 167.74,432.90 168.06,432.73 168.38,432.56 168.69,432.39 169.01,432.22 169.33,432.04 169.65,431.87 169.97,431.70 170.29,431.53 170.61,431.36 170.93,431.18 171.24,431.01 171.56,430.84 171.88,430.67 172.20,430.50 172.52,430.32 172.84,430.15 173.16,429.98 173.47,429.81 173.79,429.64 174.11,429.46 174.43,429.29 174.75,429.12 175.07,428.95 175.39,428.78 175.71,428.61 176.03,428.44 176.34,428.26 176.66,428.09 176.98,427.92 177.30,427.75 177.62,427.58 177.94,427.41 178.26,427.24 178.57,427.07 178.89,426.90 179.21,426.73 179.53,426.56 179.85,426.39 180.17,426.22 180.49,426.05 180.81,425.88 181.12,425.71 181.44,425.54 181.76,425.37 182.08,425.20 182.40,425.03 182.72,424.86 183.04,424.69 183.36,424.52 183.68,424.35 183.99,424.19 184.31,424.02 184.63,423.85 184.95,423.68 185.27,423.51 185.59,423.35 185.91,423.18 186.22,423.01 186.54,422.84 186.86,422.68 187.18,422.51 187.50,422.34 187.82,422.18 188.14,422.01 188.46,421.85 188.78,421.68 189.09,421.51 189.41,421.35 189.73,421.18 190.05,421.02 190.37,420.85 190.69,420.69 191.01,420.52 191.32,420.36 191.64,420.20 191.96,420.03 192.28,419.87 192.60,419.71 192.92,419.54 193.24,419.38 193.56,419.22 193.88,419.06 194.19,418.89 194.51,418.73 194.83,418.57 195.15,418.41 195.47,418.25 195.79,418.09 196.11,417.93 196.43,417.77 196.74,417.61 197.06,417.45 197.38,417.29 197.70,417.13 198.02,416.97 198.34,416.81 198.66,416.65 198.97,416.49 199.29,416.34 199.61,416.18 199.93,416.02 200.25,415.87 200.57,415.71 200.89,415.55 201.21,415.40 201.52,415.24 201.84,415.09 202.16,414.93 202.48,414.78 202.80,414.62 203.12,414.47 203.44,414.32 203.76,414.16 204.07,414.01 204.39,413.86 204.71,413.71 205.03,413.55 205.35,413.40 205.67,413.25 205.99,413.10 206.31,412.95 206.62,412.80 206.94,412.65 207.26,412.50 207.58,412.35 207.90,412.20 208.22,412.06 208.54,411.91 208.86,411.76 209.18,411.61 209.49,411.47 209.81,411.32 210.13,411.17 210.45,411.03 210.77,410.88 211.09,410.74 211.41,410.60 211.72,410.45 212.04,410.31 212.36,410.17 212.68,410.02 213.00,409.88 213.32,409.74 213.64,409.60 213.96,409.46 214.27,409.32 214.59,409.18 214.91,409.04 215.23,408.90 215.55,408.76 215.87,408.62 216.19,408.48 216.51,408.34 216.82,408.21 217.14,408.07 217.46,407.93 217.78,407.80 218.10,407.66 218.42,407.53 218.74,407.39 219.06,407.26 219.38,407.13 219.69,406.99 220.01,406.86 220.33,406.73 220.65,406.60 220.97,406.47 221.29,406.34 221.61,406.21 221.93,406.08 222.24,405.95 222.56,405.82 222.88,405.69 223.20,405.57 223.52,405.44 223.84,405.31 224.16,405.19 224.47,405.06 224.79,404.94 225.11,404.81 225.43,404.69 225.75,404.56 226.07,404.44 226.39,404.32 226.71,404.20 227.02,404.07 227.34,403.95 227.66,403.83 227.98,403.71 228.30,403.59 228.62,403.48 228.94,403.36 229.26,403.24 229.57,403.12 229.89,403.01 230.21,402.89 230.53,402.77 230.85,402.66 231.17,402.54 231.49,402.43 231.81,402.32 232.12,402.21 232.44,402.09 232.76,401.98 233.08,401.87 233.40,401.76 233.72,401.65 234.04,401.54 234.36,401.43 234.68,401.32 234.99,401.22 235.31,401.11 235.63,401.00 235.95,400.90 236.27,400.79 236.59,400.69 236.91,400.58 237.22,400.48 237.54,400.38 237.86,400.27 238.18,400.17 238.50,400.07 238.82,399.97 239.14,399.87 239.46,399.77 239.77,399.67 240.09,399.58 240.41,399.48 240.73,399.38 241.05,399.28 241.37,399.19 241.69,399.09 242.01,399.00 242.32,398.91 242.64,398.81 242.96,398.72 243.28,398.63 243.60,398.54 243.92,398.45 244.24,398.36 244.56,398.27 244.88,398.18 245.19,398.09 245.51,398.00 245.83,397.92 246.15,397.83 246.47,397.74 246.79,397.66 247.11,397.57 247.43,397.49 247.74,397.41 248.06,397.33 248.38,397.24 248.70,397.16 249.02,397.08 249.34,397.00 249.66,396.92 249.97,396.85 250.29,396.77 250.61,396.69 250.93,396.61 251.25,396.54 251.57,396.46 251.89,396.39 252.21,396.32 252.52,396.24 252.84,396.17 253.16,396.10 253.48,396.03 253.80,395.96 254.12,395.89 254.44,395.82 254.76,395.75 255.07,395.68 255.39,395.62 255.71,395.55 256.03,395.48 256.35,395.42 256.67,395.35 256.99,395.29 257.31,395.23 257.62,395.17 257.94,395.10 258.26,395.04 258.58,394.98 258.90,394.92 259.22,394.87 259.54,394.81 259.86,394.75 260.18,394.69 260.49,394.64 260.81,394.58 261.13,394.53 261.45,394.47 261.77,394.42 262.09,394.37 262.41,394.32 262.73,394.27 263.04,394.22 263.36,394.17 263.68,394.12 264.00,394.07 264.32,394.02 264.64,393.97 264.96,393.93 265.27,393.88 265.59,393.84 265.91,393.80 266.23,393.75 266.55,393.71 266.87,393.67 267.19,393.63 267.51,393.59 267.82,393.55 268.14,393.51 268.46,393.47 268.78,393.43 269.10,393.40 269.42,393.36 269.74,393.32 270.06,393.29 270.38,393.26 270.69,393.22 271.01,393.19 271.33,393.16 271.65,393.13 271.97,393.10 272.29,393.07 272.61,393.04 272.92,393.01 273.24,392.99 273.56,392.96 273.88,392.93 274.20,392.91 274.52,392.88 274.84,392.86 275.16,392.84 275.48,392.82 275.79,392.79 276.11,392.77 276.43,392.75 276.75,392.74 277.07,392.72 277.39,392.70 277.71,392.68 278.02,392.67 278.34,392.65 278.66,392.64 278.98,392.62 279.30,392.61 279.62,392.60 279.94,392.58 280.26,392.57 280.57,392.56 280.89,392.55 281.21,392.54 281.53,392.54 281.85,392.53 282.17,392.52 282.49,392.52 282.81,392.51 283.12,392.51 283.44,392.50 283.76,392.50 284.08,392.50 284.40,392.50 284.72,392.50 285.04,392.50 285.36,392.50 285.67,392.50 285.99,392.50 286.31,392.51 286.63,392.51 286.95,392.51 287.27,392.52 287.59,392.52 287.91,392.53 288.23,392.54 288.54,392.55 288.86,392.56 289.18,392.57 289.50,392.58 289.82,392.59 290.14,392.60 290.46,392.61 290.77,392.63 291.09,392.64 291.41,392.66 291.73,392.67 292.05,392.69 292.37,392.70 292.69,392.72 293.01,392.74 293.32,392.76 293.64,392.78 293.96,392.80 294.28,392.82 294.60,392.84 294.92,392.87 295.24,392.89 295.56,392.92 295.88,392.94 296.19,392.97 296.51,392.99 296.83,393.02 297.15,393.05 297.47,393.08 297.79,393.11 298.11,393.14 298.42,393.17 298.74,393.20 299.06,393.23 299.38,393.27 299.70,393.30 300.02,393.34 300.34,393.37 300.66,393.41 300.98,393.44 301.29,393.48 301.61,393.52 301.93,393.56 302.25,393.60 302.57,393.64 302.89,393.68 303.21,393.72 303.52,393.76 303.84,393.81 304.16,393.85 304.48,393.90 304.80,393.94 305.12,393.99 305.44,394.04 305.76,394.08 306.07,394.13 306.39,394.18 306.71,394.23 307.03,394.28 307.35,394.33 307.67,394.38 307.99,394.44 308.31,394.49 308.62,394.54 308.94,394.60 309.26,394.65 309.58,394.71 309.90,394.77 310.22,394.82 310.54,394.88 310.86,394.94 311.17,395.00 311.49,395.06 311.81,395.12 312.13,395.18 312.45,395.25 312.77,395.31 313.09,395.37 313.41,395.44 313.73,395.50 314.04,395.57 314.36,395.64 314.68,395.70 315.00,395.77 315.32,395.84 315.64,395.91 315.96,395.98 316.27,396.05 316.59,396.12 316.91,396.19 317.23,396.26 317.55,396.34 317.87,396.41 318.19,396.49 318.51,396.56 318.82,396.64 319.14,396.71 319.46,396.79 319.78,396.87 320.10,396.95 320.42,397.03 320.74,397.11 321.06,397.19 321.38,397.27 321.69,397.35 322.01,397.43 322.33,397.52 322.65,397.60 322.97,397.68 323.29,397.77 323.61,397.85 323.92,397.94 324.24,398.03 324.56,398.12 324.88,398.20 325.20,398.29 325.52,398.38 325.84,398.47 326.16,398.56 326.48,398.66 326.79,398.75 327.11,398.84 327.43,398.93 327.75,399.03 328.07,399.12 328.39,399.22 328.71,399.31 329.02,399.41 329.34,399.51 329.66,399.60 329.98,399.70 330.30,399.80 330.62,399.90 330.94,400.00 331.26,400.10 331.57,400.20 331.89,400.30 332.21,400.41 332.53,400.51 332.85,400.61 333.17,400.72 333.49,400.82 333.81,400.93 334.12,401.03 334.44,401.14 334.76,401.25 335.08,401.36 335.40,401.46 335.72,401.57 336.04,401.68 336.36,401.79 336.67,401.90 336.99,402.01 337.31,402.13 337.63,402.24 337.95,402.35 338.27,402.46 338.59,402.58 338.91,402.69 339.23,402.81 339.54,402.92 339.86,403.04 340.18,403.16 340.50,403.27 340.82,403.39 341.14,403.51 341.46,403.63 341.77,403.75 342.09,403.87 342.41,403.99 342.73,404.11 343.05,404.23 343.37,404.35 343.69,404.48 344.01,404.60 344.32,404.72 344.64,404.85 344.96,404.97 345.28,405.10 345.60,405.22 345.92,405.35 346.24,405.48 346.56,405.60 346.88,405.73 347.19,405.86 347.51,405.99 347.83,406.12 348.15,406.25 348.47,406.38 348.79,406.51 349.11,406.64 349.42,406.77 349.74,406.90 350.06,407.03 350.38,407.17 350.70,407.30 351.02,407.43 351.34,407.57 351.66,407.70 351.98,407.84 352.29,407.97 352.61,408.11 352.93,408.25 353.25,408.38 353.57,408.52 353.89,408.66 354.21,408.80 354.52,408.94 354.84,409.08 355.16,409.22 355.48,409.36 355.80,409.50 356.12,409.64 356.44,409.78 356.76,409.92 357.07,410.06 357.39,410.21 357.71,410.35 358.03,410.49 358.35,410.64 358.67,410.78 358.99,410.93 359.31,411.07 359.62,411.22 359.94,411.36 360.26,411.51 360.58,411.66 360.90,411.80 361.22,411.95 361.54,412.10 361.86,412.25 362.17,412.40 362.49,412.55 362.81,412.69 363.13,412.84 363.45,412.99 363.77,413.15 364.09,413.30 364.41,413.45 364.73,413.60 365.04,413.75 365.36,413.90 365.68,414.06 366.00,414.21 366.32,414.36 366.64,414.52 366.96,414.67 367.27,414.82 367.59,414.98 367.91,415.13 368.23,415.29 368.55,415.44 368.87,415.60 369.19,415.76 369.51,415.91 369.82,416.07 370.14,416.23 370.46,416.38 370.78,416.54 371.10,416.70 371.42,416.86 371.74,417.02 372.06,417.18 372.38,417.33 372.69,417.49 373.01,417.65 373.33,417.81 373.65,417.97 373.97,418.13 374.29,418.30 374.61,418.46 374.92,418.62 375.24,418.78 375.56,418.94 375.88,419.10 376.20,419.27 376.52,419.43 376.84,419.59 377.16,419.75 377.48,419.92 377.79,420.08 378.11,420.24 378.43,420.41 378.75,420.57 379.07,420.74 379.39,420.90 379.71,421.07 380.02,421.23 380.34,421.40 380.66,421.56 380.98,421.73 381.30,421.89 381.62,422.06 381.94,422.23 382.26,422.39 382.57,422.56 382.89,422.73 383.21,422.89 383.53,423.06 383.85,423.23 384.17,423.40 384.49,423.56 384.81,423.73 385.12,423.90 385.44,424.07 385.76,424.24 386.08,424.40 386.40,424.57 386.72,424.74 387.04,424.91 387.36,425.08 387.67,425.25 387.99,425.42 388.31,425.59 388.63,425.76 388.95,425.93 389.27,426.10 389.59,426.27 389.91,426.44 390.23,426.61 390.54,426.78 390.86,426.95 391.18,427.12 391.50,427.29 391.82,427.46 392.14,427.63 392.46,427.80 392.77,427.97 393.09,428.14 393.41,428.32 393.73,428.49 394.05,428.66 394.37,428.83 394.69,429.00 395.01,429.17 395.32,429.34 395.64,429.52 395.96,429.69 396.28,429.86 396.60,430.03 396.92,430.20 397.24,430.37 397.56,430.55 397.88,430.72 398.19,430.89 398.51,431.06 398.83,431.23 399.15,431.41 399.47,431.58 399.79,431.75 400.11,431.92 400.42,432.10 400.74,432.27 401.06,432.44 401.38,432.61 401.70,432.78 402.02,432.96 402.34,433.13 402.66,433.30 402.97,433.47 403.29,433.64 403.61,433.82 403.93,433.99 404.25,434.16 404.57,434.33 404.89,434.50 405.21,434.68 405.52,434.85 405.84,435.02 406.16,435.19 406.48,435.36 406.80,435.54 407.12,435.71 407.44,435.88 407.76,436.05 408.07,436.22 408.39,436.39 408.71,436.56 409.03,436.74 409.35,436.91 409.67,437.08 409.99,437.25 410.31,437.42 410.62,437.59 410.94,437.76 411.26,437.93 411.58,438.10 411.90,438.27 412.22,438.44 412.54,438.61 412.86,438.78 413.17,438.95 413.49,439.12 413.81,439.29 414.13,439.46 414.45,439.63 414.77,439.80 415.09,439.97 415.41,440.14 415.72,440.31 416.04,440.48 416.36,440.65 416.68,440.81 417.00,440.98 417.32,441.15 417.64,441.32 417.96,441.49 418.27,441.65 418.59,441.82 418.91,441.99 419.23,442.16 419.55,442.32 419.87,442.49 420.19,442.66 420.51,442.82 420.82,442.99 421.14,443.15 421.46,443.32 421.78,443.49 422.10,443.65 422.42,443.82 422.74,443.98 423.06,444.15 423.38,444.31 423.69,444.48 424.01,444.64 424.33,444.80 424.65,444.97 424.97,445.13 425.29,445.29 425.61,445.46 425.92,445.62 426.24,445.78 426.56,445.94 426.88,446.11 427.20,446.27 427.52,446.43 427.84,446.59 428.16,446.75 428.47,446.91 428.79,447.07 429.11,447.23 429.43,447.39 429.75,447.55 430.07,447.71 430.39,447.87 430.71,448.03 431.02,448.19 431.34,448.35 431.66,448.51 431.98,448.66 432.30,448.82 432.62,448.98 432.94,449.13 433.26,449.29 433.57,449.45 433.89,449.60 434.21,449.76 434.53,449.91 434.85,450.07 435.17,450.22 435.49,450.38 435.81,450.53 436.12,450.68 436.44,450.84 436.76,450.99 437.08,451.14 437.40,451.29 437.72,451.45 438.04,451.60 438.36,451.75 438.67,451.90 438.99,452.05 439.31,452.20 439.63,452.35 439.95,452.50 440.27,452.65 440.59,452.80 440.91,452.94 441.22,453.09 441.54,453.24 441.86,453.39 442.18,453.53 442.50,453.68 442.82,453.83 443.14,453.97 443.46,454.12 443.77,454.26 444.09,454.40 444.41,454.55 444.73,454.69 445.05,454.83 445.37,454.98 445.69,455.12 446.01,455.26 446.32,455.40 446.64,455.54 446.96,455.68 447.28,455.82 447.60,455.96 447.92,456.10 448.24,456.24 448.56,456.38 448.88,456.52 449.19,456.66 449.51,456.79 449.83,456.93 450.15,457.07 450.47,457.20 450.79,457.34 451.11,457.47 451.42,457.61 451.74,457.74 452.06,457.87 452.38,458.01 452.70,458.14 453.02,458.27 453.34,458.40 453.66,458.53 453.97,458.66 454.29,458.79 454.61,458.92 454.93,459.05 455.25,459.18 455.57,459.31 455.89,459.43 456.21,459.56 456.52,459.69 456.84,459.81 457.16,459.94 457.48,460.06 457.80,460.19 458.12,460.31 458.44,460.44 458.76,460.56 459.07,460.68 459.39,460.80 459.71,460.93 460.03,461.05 460.35,461.17 460.67,461.29 460.99,461.41 461.31,461.52 461.62,461.64 461.94,461.76 462.26,461.88 462.58,461.99 462.90,462.11 463.22,462.23 463.54,462.34 463.86,462.46 464.17,462.57 464.49,462.68 464.81,462.79 465.13,462.91 465.45,463.02 465.77,463.13 466.09,463.24 466.41,463.35 466.72,463.46 467.04,463.57 467.36,463.68 467.68,463.78 468.00,463.89 468.32,464.00 468.64,464.10 468.96,464.21 469.27,464.31 469.59,464.42 469.91,464.52 470.23,464.62 470.55,464.73 470.87,464.83 471.19,464.93 471.51,465.03 471.82,465.13 472.14,465.23 472.46,465.33 472.78,465.42 473.10,465.52 473.42,465.62 473.74,465.72 474.06,465.81 474.38,465.91 474.69,466.00 475.01,466.09 475.33,466.19 475.65,466.28 475.97,466.37 476.29,466.46 476.61,466.55 476.92,466.64 477.24,466.73 477.56,466.82 477.88,466.91 478.20,467.00 478.52,467.08 478.84,467.17 479.16,467.26 479.47,467.34 479.79,467.43 480.11,467.51 480.43,467.59 480.75,467.67 481.07,467.76 481.39,467.84 481.71,467.92 482.02,468.00 482.34,468.08 482.66,468.15 482.98,468.23 483.30,468.31 483.62,468.39 483.94,468.46 484.26,468.54 484.57,468.61 484.89,468.68 485.21,468.76 485.53,468.83 485.85,468.90 486.17,468.97 486.49,469.04 486.81,469.11 487.12,469.18 487.44,469.25 487.76,469.32 488.08,469.38 488.40,469.45 488.72,469.52 489.04,469.58 489.36,469.65 489.67,469.71 489.99,469.77 490.31,469.83 490.63,469.90 490.95,469.96 491.27,470.02 491.59,470.08 491.91,470.13 492.22,470.19 492.54,470.25 492.86,470.31 493.18,470.36 493.50,470.42 493.82,470.47 494.14,470.53 494.46,470.58 494.77,470.63 495.09,470.68 495.41,470.73 495.73,470.78 496.05,470.83 496.37,470.88 496.69,470.93 497.01,470.98 497.32,471.03 497.64,471.07 497.96,471.12 498.28,471.16 498.60,471.20 498.92,471.25 499.24,471.29 499.56,471.33 499.88,471.37 500.19,471.41 500.51,471.45 500.83,471.49 501.15,471.53 501.47,471.57 501.79,471.60 502.11,471.64 502.42,471.68 502.74,471.71 503.06,471.74 503.38,471.78 503.70,471.81 504.02,471.84 504.34,471.87 504.66,471.90 504.97,471.93 505.29,471.96 505.61,471.99 505.93,472.01 506.25,472.04 506.57,472.07 506.89,472.09 507.21,472.12 507.52,472.14 507.84,472.16 508.16,472.18 508.48,472.21 508.80,472.23 509.12,472.25 509.44,472.26 509.76,472.28 510.07,472.30 510.39,472.32 510.71,472.33 511.03,472.35 511.35,472.36 511.67,472.38 511.99,472.39 512.31,472.40 512.62,472.42 512.94,472.43 513.26,472.44 513.58,472.45 513.90,472.46 514.22,472.46 514.54,472.47 514.86,472.48 515.17,472.48 515.49,472.49 515.81,472.49 516.13,472.50 516.45,472.50 516.77,472.50 517.09,472.50 517.41,472.50 517.72,472.50 518.04,472.50 518.36,472.50 518.68,472.50 519.00,472.49 519.32,472.49 519.64,472.49 519.96,472.48 520.27,472.48 520.59,472.47 520.91,472.46 521.23,472.45 521.55,472.44 521.87,472.43 522.19,472.42 522.51,472.41 522.83,472.40 523.14,472.39 523.46,472.37 523.78,472.36 524.10,472.34 524.42,472.33 524.74,472.31 525.06,472.30 525.38,472.28 525.69,472.26 526.01,472.24 526.33,472.22 526.65,472.20 526.97,472.18 527.29,472.16 527.61,472.13 527.92,472.11 528.24,472.08 528.56,472.06 528.88,472.03 529.20,472.01 529.52,471.98 529.84,471.95 530.16,471.92 530.47,471.89 530.79,471.86 531.11,471.83 531.43,471.80 531.75,471.77 532.07,471.73 532.39,471.70 532.71,471.66 533.02,471.63 533.34,471.59 533.66,471.56 533.98,471.52 534.30,471.48 534.62,471.44 534.94,471.40 535.26,471.36 535.58,471.32 535.89,471.28 536.21,471.24 536.53,471.19 536.85,471.15 537.17,471.10 537.49,471.06 537.81,471.01 538.12,470.96 538.44,470.92 538.76,470.87 539.08,470.82 539.40,470.77 539.72,470.72 540.04,470.67 540.36,470.62 540.67,470.56 540.99,470.51 541.31,470.46 541.63,470.40 541.95,470.35 542.27,470.29 542.59,470.23 542.91,470.18 543.22,470.12 543.54,470.06 543.86,470.00 544.18,469.94 544.50,469.88 544.82,469.82 545.14,469.75 545.46,469.69 545.77,469.63 546.09,469.56 546.41,469.50 546.73,469.43 547.05,469.36 547.37,469.30 547.69,469.23 548.01,469.16 548.33,469.09 548.64,469.02 548.96,468.95 549.28,468.88 549.60,468.81 549.92,468.74 550.24,468.66 550.56,468.59 550.88,468.51 551.19,468.44 551.51,468.36 551.83,468.29 552.15,468.21 552.47,468.13 552.79,468.05 553.11,467.97 553.42,467.89 553.74,467.81 554.06,467.73 554.38,467.65 554.70,467.57 555.02,467.48 555.34,467.40 555.66,467.32 555.97,467.23 556.29,467.15 556.61,467.06 556.93,466.97 557.25,466.88 557.57,466.80 557.89,466.71 558.21,466.62 558.52,466.53 558.84,466.44 559.16,466.34 559.48,466.25 559.80,466.16 560.12,466.07 560.44,465.97 560.76,465.88 561.08,465.78 561.39,465.69 561.71,465.59 562.03,465.49 562.35,465.40 562.67,465.30 562.99,465.20 563.31,465.10 563.62,465.00 563.94,464.90 564.26,464.80 564.58,464.70 564.90,464.59 565.22,464.49 565.54,464.39 565.86,464.28 566.17,464.18 566.49,464.07 566.81,463.97 567.13,463.86 567.45,463.75 567.77,463.64 568.09,463.54 568.41,463.43 568.72,463.32 569.04,463.21 569.36,463.10 569.68,462.99 570.00,462.87 570.32,462.76 570.64,462.65 570.96,462.54 571.27,462.42 571.59,462.31 571.91,462.19 572.23,462.08 572.55,461.96 572.87,461.84 573.19,461.73 573.51,461.61 573.83,461.49 574.14,461.37 574.46,461.25 574.78,461.13 575.10,461.01 575.42,460.89 575.74,460.77 576.06,460.65 576.38,460.52 576.69,460.40 577.01,460.28 577.33,460.15 577.65,460.03 577.97,459.90 578.29,459.78 578.61,459.65 578.92,459.52 579.24,459.40 579.56,459.27 579.88,459.14 580.20,459.01 580.52,458.88 580.84,458.75 581.16,458.62 581.47,458.49 581.79,458.36 582.11,458.23 582.43,458.10 582.75,457.97 583.07,457.83 583.39,457.70 583.71,457.57 584.02,457.43 584.34,457.30 584.66,457.16 584.98,457.03 585.30,456.89 585.62,456.75 585.94,456.62 586.26,456.48 586.58,456.34 586.89,456.20 587.21,456.06 587.53,455.92 587.85,455.78 588.17,455.64 588.49,455.50 588.81,455.36 589.12,455.22 589.44,455.08 589.76,454.94 590.08,454.79 590.40,454.65 590.72,454.51 591.04,454.36 591.36,454.22 591.67,454.07 591.99,453.93 592.31,453.78 592.63,453.64 592.95,453.49 593.27,453.34 593.59,453.20 593.91,453.05 594.22,452.90 594.54,452.75 594.86,452.60 595.18,452.45 595.50,452.31 595.82,452.16 596.14,452.01 596.46,451.85 596.77,451.70 597.09,451.55 597.41,451.40 597.73,451.25 598.05,451.10 598.37,450.94 598.69,450.79 599.01,450.64 599.33,450.48 599.64,450.33 599.96,450.18 600.28,450.02 600.60,449.87 600.92,449.71 601.24,449.56 601.56,449.40 601.88,449.24 602.19,449.09 602.51,448.93 602.83,448.77 603.15,448.62 603.47,448.46 603.79,448.30 604.11,448.14 604.42,447.98 604.74,447.82 605.06,447.67 605.38,447.51 605.70,447.35 606.02,447.19 606.34,447.03 606.66,446.87 606.97,446.70 607.29,446.54 607.61,446.38 607.93,446.22 608.25,446.06 608.57,445.90 608.89,445.73 609.21,445.57 609.52,445.41 609.84,445.25 610.16,445.08 610.48,444.92 610.80,444.76 611.12,444.59 611.44,444.43 611.76,444.26 612.08,444.10 612.39,443.93 612.71,443.77 613.03,443.60 613.35,443.44 613.67,443.27 613.99,443.11 614.31,442.94 614.62,442.77 614.94,442.61 615.26,442.44 615.58,442.27 615.90,442.11 616.22,441.94 616.54,441.77 616.86,441.60 617.17,441.44 617.49,441.27 617.81,441.10 618.13,440.93 618.45,440.76 618.77,440.60 619.09,440.43 619.41,440.26 619.72,440.09 620.04,439.92 620.36,439.75 620.68,439.58 621.00,439.41 621.32,439.24 621.64,439.07 621.96,438.90 622.27,438.73 622.59,438.56 622.91,438.39 623.23,438.22 623.55,438.05 623.87,437.88 624.19,437.71 624.51,437.54 624.83,437.37 625.14,437.20 625.46,437.03 625.78,436.86 626.10,436.68 626.42,436.51 626.74,436.34 627.06,436.17 627.38,436.00 627.69,435.83 628.01,435.66 628.33,435.48 628.65,435.31 628.97,435.14 629.29,434.97 629.61,434.80 629.92,434.63 630.24,434.45 630.56,434.28 630.88,434.11 631.20,433.94 631.52,433.77 631.84,433.59 632.16,433.42 632.47,433.25 632.79,433.08 633.11,432.90 633.43,432.73 633.75,432.56 634.07,432.39 634.39,432.22 634.71,432.04 635.02,431.87 635.34,431.70 635.66,431.53 635.98,431.36 636.30,431.18 636.62,431.01 636.94,430.84 637.26,430.67 637.58,430.50 637.89,430.32 638.21,430.15 638.53,429.98 638.85,429.81 639.17,429.64 639.49,429.46 639.81,429.29 640.12,429.12 640.44,428.95 640.76,428.78 641.08,428.61 641.40,428.44 641.72,428.26 642.04,428.09 642.36,427.92 642.67,427.75 642.99,427.58 643.31,427.41 643.63,427.24 643.95,427.07 644.27,426.90 644.59,426.73 644.91,426.56 645.22,426.39 645.54,426.22 645.86,426.05 646.18,425.88 646.50,425.71 646.82,425.54 647.14,425.37 647.46,425.20 647.77,425.03 648.09,424.86 648.41,424.69 648.73,424.52 649.05,424.35 649.37,424.19 649.69,424.02 650.01,423.85 650.32,423.68 650.64,423.51 650.96,423.35 651.28,423.18 651.60,423.01 651.92,422.84 652.24,422.68 652.56,422.51 652.88,422.34 653.19,422.18 653.51,422.01 653.83,421.85 654.15,421.68 654.47,421.51 654.79,421.35 655.11,421.18 655.42,421.02 655.74,420.85 656.06,420.69 656.38,420.52 656.70,420.36 657.02,420.20 657.34,420.03 657.66,419.87 657.97,419.71 658.29,419.54 658.61,419.38 658.93,419.22 659.25,419.06 659.57,418.89 659.89,418.73 660.21,418.57 660.52,418.41 660.84,418.25 661.16,418.09 661.48,417.93 661.80,417.77 662.12,417.61 662.44,417.45 662.76,417.29 663.07,417.13 663.39,416.97 663.71,416.81 664.03,416.65 664.35,416.49 664.67,416.34 664.99,416.18 665.31,416.02 665.62,415.87 665.94,415.71 666.26,415.55 666.58,415.40 666.90,415.24 667.22,415.09 667.54,414.93 667.86,414.78 668.17,414.62 668.49,414.47 668.81,414.32 669.13,414.16 669.45,414.01 669.77,413.86 670.09,413.71 670.41,413.55 670.72,413.40 671.04,413.25 671.36,413.10 671.68,412.95 672.00,412.80 672.32,412.65 672.64,412.50 672.96,412.35 673.27,412.20 673.59,412.06 673.91,411.91 674.23,411.76 674.55,411.61 674.87,411.47 675.19,411.32 675.51,411.17 675.82,411.03 676.14,410.88 676.46,410.74 676.78,410.60 677.10,410.45 677.42,410.31 677.74,410.17 678.06,410.02 678.38,409.88 678.69,409.74 679.01,409.60 679.33,409.46 679.65,409.32 679.97,409.18 680.29,409.04 680.61,408.90 680.92,408.76 681.24,408.62 681.56,408.48 681.88,408.34 682.20,408.21 682.52,408.07 682.84,407.93 683.16,407.80 683.47,407.66 683.79,407.53 684.11,407.39 684.43,407.26 684.75,407.13 685.07,406.99 685.39,406.86 685.71,406.73 686.02,406.60 686.34,406.47 686.66,406.34 686.98,406.21 687.30,406.08 687.62,405.95 687.94,405.82 688.26,405.69 688.57,405.57 688.89,405.44 689.21,405.31 689.53,405.19 689.85,405.06 690.17,404.94 690.49,404.81 690.81,404.69 691.12,404.56 691.44,404.44 691.76,404.32 692.08,404.20 692.40,404.07 692.72,403.95 693.04,403.83 693.36,403.71 693.67,403.59 693.99,403.48 694.31,403.36 694.63,403.24 694.95,403.12 695.27,403.01 695.59,402.89 695.91,402.77 696.22,402.66 696.54,402.54 696.86,402.43 697.18,402.32 697.50,402.21 697.82,402.09 698.14,401.98 698.46,401.87 698.77,401.76 699.09,401.65 699.41,401.54 699.73,401.43 700.05,401.32 700.37,401.22 700.69,401.11 701.01,401.00 701.32,400.90 701.64,400.79 701.96,400.69 702.28,400.58 702.60,400.48 702.92,400.38 703.24,400.27 703.56,400.17 703.88,400.07" fill="none" stroke="#800040" stroke-width="1" shape-rendering="crispEdges"/><polyline points="575.16,143.24 575.41,143.44 575.66,143.64 575.91,143.84 576.16,144.03 576.40,144.23 576.65,144.42 576.90,144.61 577.15,144.80 577.40,144.99 577.65,145.17 577.89,145.36 578.14,145.54 578.39,145.72 578.64,145.90 578.89,146.08 579.14,146.25 579.38,146.43 579.63,146.60 579.88,146.77 580.13,146.93 580.38,147.10 580.63,147.26 580.87,147.43 581.12,147.59 581.37,147.75 581.62,147.90 581.87,148.06 582.12,148.21 582.36,148.36 582.61,148.51 582.86,148.65 583.11,148.80 583.36,148.94 583.61,149.08 583.85,149.22 584.10,149.36 584.35,149.49 584.60,149.62 584.85,149.75 585.10,149.88 585.34,150.01 585.59,150.13 585.84,150.25 586.09,150.37 586.34,150.49 586.59,150.60 586.83,150.72 587.08,150.83 587.33,150.94 587.58,151.04 587.83,151.15 588.08,151.25 588.32,151.35 588.57,151.45 588.82,151.54 589.07,151.64 589.32,151.73 589.57,151.82 589.81,151.90 590.06,151.99 590.31,152.07 590.56,152.15 590.81,152.23 591.06,152.30 591.30,152.37 591.55,152.44 591.80,152.51 592.05,152.58 592.30,152.64 592.55,152.70 592.79,152.76 593.04,152.82 593.29,152.88 593.54,152.93 593.79,152.98 594.04,153.02 594.28,153.07 594.53,153.11 594.78,153.15 595.03,153.19 595.28,153.23 595.53,153.26 595.77,153.29 596.02,153.32 596.27,153.35 596.52,153.37 596.77,153.39 597.02,153.41 597.26,153.43 597.51,153.44 597.76,153.46 598.01,153.47 598.26,153.47 598.51,153.48 598.75,153.48 599.00,153.48 599.25,153.48 599.50,153.48 599.75,153.47 600.00,153.46 600.25,153.45 600.49,153.44 600.74,153.42 600.99,153.40 601.24,153.38 601.49,153.36 601.74,153.33 601.98,153.30 602.23,153.27 602.48,153.24 602.73,153.20 602.98,153.17 603.23,153.13 603.47,153.09 603.72,153.04 603.97,152.99 604.22,152.95 604.47,152.89 604.72,152.84 604.96,152.78 605.21,152.73 605.46,152.67 605.71,152.60 605.96,152.54 606.21,152.47 606.45,152.40 606.70,152.33 606.95,152.25 607.20,152.18 607.45,152.10 607.70,152.02 607.94,151.93 608.19,151.85 608.44,151.76 608.69,151.67 608.94,151.58 609.19,151.48 609.43,151.38 609.68,151.28 609.93,151.18 610.18,151.08 610.43,150.97 610.68,150.87 610.92,150.76 611.17,150.64 611.42,150.53 611.67,150.41 611.92,150.29 612.17,150.17 612.41,150.05 612.66,149.92 612.91,149.80 613.16,149.67 613.41,149.54 613.66,149.40 613.90,149.27 614.15,149.13 614.40,148.99 614.65,148.85 614.90,148.70 615.15,148.56 615.39,148.41 615.64,148.26 615.89,148.11 616.14,147.96 616.39,147.80 616.64,147.64 616.88,147.48 617.13,147.32 617.38,147.16 617.63,146.99 617.88,146.83 618.13,146.66 618.37,146.49 618.62,146.31 618.87,146.14 619.12,145.96 619.37,145.78 619.62,145.60 619.86,145.42 620.11,145.24 620.36,145.05 620.61,144.87 620.86,144.68 621.11,144.49 621.35,144.29 621.60,144.10 621.85,143.91 622.10,143.71 622.35,143.51 622.60,143.31 622.84,143.11 623.09,142.90 623.34,142.70 623.59,142.49 623.84,142.28 624.09,142.07 624.34,141.86 624.58,141.65 624.83,141.43 625.08,141.22 625.33,141.00 625.58,140.78 625.83,140.56 626.07,140.34 626.32,140.11 626.57,139.89 626.82,139.66 627.07,139.44 627.32,139.21 627.56,138.98 627.81,138.75 628.06,138.52 628.31,138.28 628.56,138.05 628.81,137.81 629.05,137.57 629.30,137.33 629.55,137.09 629.80,136.85 630.05,136.61 630.30,136.37 630.54,136.12 630.79,135.88 631.04,135.63 631.29,135.38 631.54,135.14 631.79,134.89 632.03,134.64 632.28,134.38 632.53,134.13 632.78,133.88 633.03,133.62 633.28,133.37 633.52,133.11 633.77,132.86 634.02,132.60 634.27,132.34 634.52,132.08 634.77,131.82 635.01,131.56 635.26,131.30 635.51,131.04 635.76,130.77 636.01,130.51 636.26,130.24 636.50,129.98 636.75,129.71 637.00,129.45 637.25,129.18 637.50,128.91 637.75,128.64 637.99,128.38 638.24,128.11 638.49,127.84 638.74,127.57 638.99,127.30 639.24,127.03 639.48,126.75 639.73,126.48 639.98,126.21 640.23,125.94 640.48,125.67 640.73,125.39 640.97,125.12 641.22,124.85 641.47,124.57 641.72,124.30 641.97,124.02 642.22,123.75 642.46,123.47 642.71,123.20 642.96,122.92 643.21,122.65 643.46,122.37 643.71,122.10 643.95,121.82 644.20,121.55 644.45,121.27 644.70,121.00 644.95,120.72 645.20,120.45 645.44,120.17 645.69,119.90 645.94,119.62 646.19,119.35 646.44,119.07 646.69,118.80 646.93,118.52 647.18,118.25 647.43,117.98 647.68,117.70 647.93,117.43 648.18,117.16 648.42,116.88 648.67,116.61 648.92,116.34 649.17,116.07 649.42,115.80 649.67,115.53 649.92,115.26 650.16,114.99 650.41,114.72 650.66,114.45 650.91,114.18 651.16,113.91 651.41,113.65 651.65,113.38 651.90,113.11 652.15,112.85 652.40,112.58 652.65,112.32 652.90,112.06 653.14,111.79 653.39,111.53 653.64,111.27 653.89,111.01 654.14,110.75 654.39,110.49 654.63,110.23 654.88,109.98 655.13,109.72 655.38,109.46 655.63,109.21 655.88,108.96 656.12,108.70 656.37,108.45 656.62,108.20 656.87,107.95 657.12,107.70 657.37,107.45 657.61,107.21 657.86,106.96 658.11,106.72 658.36,106.47 658.61,106.23 658.86,105.99 659.10,105.75 659.35,105.51 659.60,105.27 659.85,105.04 660.10,104.80 660.35,104.57 660.59,104.33 660.84,104.10 661.09,103.87 661.34,103.64 661.59,103.42 661.84,103.19 662.08,102.96 662.33,102.74 662.58,102.52 662.83,102.30 663.08,102.08 663.33,101.86 663.57,101.64 663.82,101.43 664.07,101.21 664.32,101.00 664.57,100.79 664.82,100.58 665.06,100.38 665.31,100.17 665.56,99.97 665.81,99.76 666.06,99.56 666.31,99.36 666.55,99.16 666.80,98.97 667.05,98.77 667.30,98.58 667.55,98.39 667.80,98.20 668.04,98.01 668.29,97.83 668.54,97.64 668.79,97.46 669.04,97.28 669.29,97.10 669.53,96.92 669.78,96.75 670.03,96.57 670.28,96.40 670.53,96.23 670.78,96.07 671.02,95.90 671.27,95.74 671.52,95.57 671.77,95.41 672.02,95.25 672.27,95.10 672.51,94.94 672.76,94.79 673.01,94.64 673.26,94.49 673.51,94.35 673.76,94.20 674.00,94.06 674.25,93.92 674.50,93.78 674.75,93.64 675.00,93.51 675.25,93.38 675.50,93.25 675.74,93.12 675.99,92.99 676.24,92.87 676.49,92.75 676.74,92.63 676.99,92.51 677.23,92.40 677.48,92.28 677.73,92.17 677.98,92.06 678.23,91.96 678.48,91.85 678.72,91.75 678.97,91.65 679.22,91.55 679.47,91.46 679.72,91.36 679.97,91.27 680.21,91.18 680.46,91.10 680.71,91.01 680.96,90.93 681.21,90.85 681.46,90.77 681.70,90.70 681.95,90.63 682.20,90.56 682.45,90.49 682.70,90.42 682.95,90.36 683.19,90.30 683.44,90.24 683.69,90.18 683.94,90.12 684.19,90.07 684.44,90.02 684.68,89.98 684.93,89.93 685.18,89.89 685.43,89.85 685.68,89.81 685.93,89.77 686.17,89.74 686.42,89.71 686.67,89.68 686.92,89.65 687.17,89.63 687.42,89.61 687.66,89.59 687.91,89.57 688.16,89.56 688.41,89.54 688.66,89.53 688.91,89.53 689.15,89.52 689.40,89.52 689.65,89.52 689.90,89.52 690.15,89.52 690.40,89.53 690.64,89.54 690.89,89.55 691.14,89.56 691.39,89.58 691.64,89.60 691.89,89.62 692.13,89.64 692.38,89.67 692.63,89.70 692.88,89.73 693.13,89.76 693.38,89.80 693.62,89.83 693.87,89.87 694.12,89.91 694.37,89.96 694.62,90.01 694.87,90.05 695.11,90.11 695.36,90.16 695.61,90.22 695.86,90.27 696.11,90.33 696.36,90.40 696.60,90.46 696.85,90.53 697.10,90.60 697.35,90.67 697.60,90.75 697.85,90.82 698.09,90.90 698.34,90.98 698.59,91.07 698.84,91.15 699.09,91.24 699.34,91.33 699.59,91.42 699.83,91.52 700.08,91.62 700.33,91.72 700.58,91.82 700.83,91.92 701.08,92.03 701.32,92.13 701.57,92.24 701.82,92.36 702.07,92.47 702.32,92.59 702.57,92.71 702.81,92.83 703.06,92.95 703.31,93.08 703.56,93.20 703.81,93.33 704.06,93.46 704.30,93.60 704.55,93.73 704.80,93.87 705.05,94.01 705.30,94.15 705.55,94.30 705.79,94.44 706.04,94.59 706.29,94.74 706.54,94.89 706.79,95.04 707.04,95.20 707.28,95.36 707.53,95.52 707.78,95.68 708.03,95.84 708.28,96.01 708.53,96.17 708.77,96.34 709.02,96.51 709.27,96.69 709.52,96.86 709.77,97.04 710.02,97.22 710.26,97.40 710.51,97.58 710.76,97.76 711.01,97.95 711.26,98.13 711.51,98.32 711.75,98.51 712.00,98.71 712.25,98.90 712.50,99.09 712.75,99.29 713.00,99.49 713.24,99.69 713.49,99.89 713.74,100.10 713.99,100.30 714.24,100.51 714.49,100.72 714.73,100.93 714.98,101.14 715.23,101.35 715.48,101.57 715.73,101.78 715.98,102.00 716.22,102.22 716.47,102.44 716.72,102.66 716.97,102.89 717.22,103.11 717.47,103.34 717.71,103.56 717.96,103.79 718.21,104.02 718.46,104.25 718.71,104.48 718.96,104.72 719.20,104.95 719.45,105.19 719.70,105.43 719.95,105.67 720.20,105.91 720.45,106.15 720.69,106.39 720.94,106.63 721.19,106.88 721.44,107.12 721.69,107.37 721.94,107.62 722.18,107.86 722.43,108.11 722.68,108.36 722.93,108.62 723.18,108.87 723.43,109.12 723.67,109.38 723.92,109.63 724.17,109.89 724.42,110.14 724.67,110.40 724.92,110.66 725.17,110.92 725.41,111.18 725.66,111.44 725.91,111.70 726.16,111.96 726.41,112.23 726.66,112.49 726.90,112.76 727.15,113.02 727.40,113.29 727.65,113.55 727.90,113.82 728.15,114.09 728.39,114.36 728.64,114.62 728.89,114.89 729.14,115.16 729.39,115.43 729.64,115.70 729.88,115.97 730.13,116.25 730.38,116.52 730.63,116.79 730.88,117.06 731.13,117.33 731.37,117.61 731.62,117.88 731.87,118.15 732.12,118.43 732.37,118.70 732.62,118.98 732.86,119.25 733.11,119.53 733.36,119.80 733.61,120.08 733.86,120.35 734.11,120.63 734.35,120.90 734.60,121.18 734.85,121.45 735.10,121.73 735.35,122.00 735.60,122.28 735.84,122.55 736.09,122.83 736.34,123.10 736.59,123.38 736.84,123.65 737.09,123.93 737.33,124.20 737.58,124.48 737.83,124.75 738.08,125.02 738.33,125.30 738.58,125.57 738.82,125.84 739.07,126.12 739.32,126.39 739.57,126.66 739.82,126.93 740.07,127.20 740.31,127.47 740.56,127.74 740.81,128.01 741.06,128.28 741.31,128.55 741.56,128.82 741.80,129.09 742.05,129.35 742.30,129.62 742.55,129.89 742.80,130.15 743.05,130.42 743.29,130.68 743.54,130.94 743.79,131.21 744.04,131.47 744.29,131.73 744.54,131.99 744.78,132.25 745.03,132.51 745.28,132.77 745.53,133.02 745.78,133.28 746.03,133.54 746.27,133.79 746.52,134.04 746.77,134.30 747.02,134.55 747.27,134.80 747.52,135.05 747.76,135.30 748.01,135.55 748.26,135.79 748.51,136.04 748.76,136.28 749.01,136.53 749.26,136.77 749.50,137.01 749.75,137.25 750.00,137.49 750.25,137.73 750.50,137.96 750.75,138.20 750.99,138.43 751.24,138.67 751.49,138.90 751.74,139.13 751.99,139.36 752.24,139.58 752.48,139.81 752.73,140.04 752.98,140.26 753.23,140.48 753.48,140.70 753.73,140.92 753.97,141.14 754.22,141.36 754.47,141.57 754.72,141.79 754.97,142.00 755.22,142.21 755.46,142.42 755.71,142.62 755.96,142.83" fill="none" stroke="#800040" stroke-width="1" shape-rendering="crispEdges"/>
</svg>
</body></html>
